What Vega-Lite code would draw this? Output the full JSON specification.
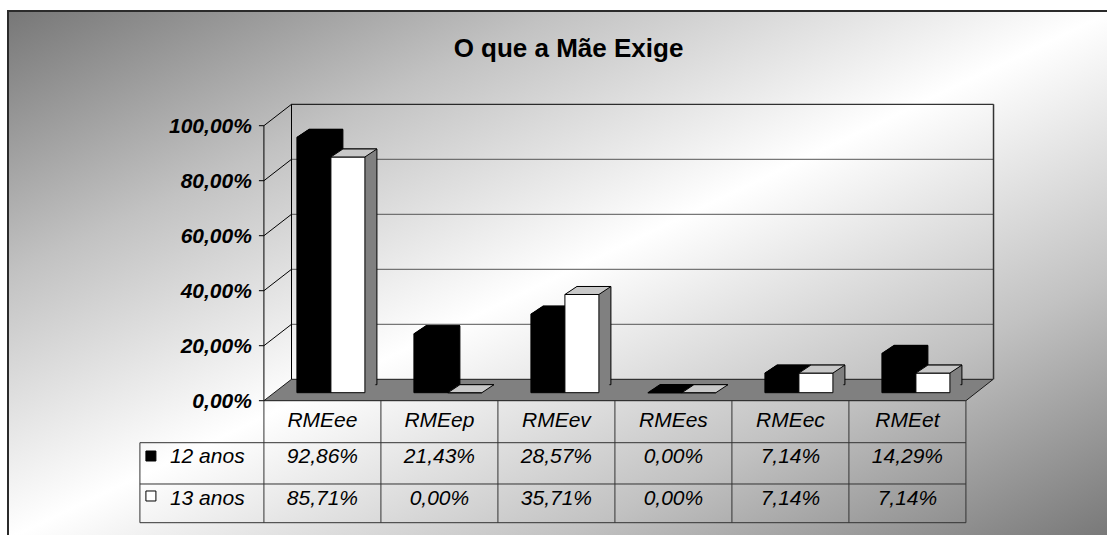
{
  "$schema": "https://vega.github.io/schema/vega-lite/v6.json",
  "width": 1105,
  "height": 528,
  "autosize": {"type": "none"},
  "padding": {"left": 8, "top": 11, "right": -6, "bottom": -4},
  "background": "#ffffff",
  "title": {"text": "O que a Mãe Exige", "anchor": "middle", "frame": "group", "orient": "top", "offset": -72, "baseline": "alphabetic", "dx": 8, "fontSize": 26, "fontWeight": "bold", "font": "Liberation Sans", "color": "#000000"},
  "config": {
    "locale": {"number": {"decimal": ",", "thousands": ".", "grouping": [3], "currency": ["", " €"]}},
    "view": {
      "fill": {"gradient": "linear", "x1": 0, "y1": 0, "x2": 1, "y2": 1, "stops": [
        {"offset": 0, "color": "#777777"},
        {"offset": 0.25, "color": "#c2c2c2"},
        {"offset": 0.5, "color": "#ffffff"},
        {"offset": 0.75, "color": "#c2c2c2"},
        {"offset": 1, "color": "#777777"}]},
      "stroke": "#2b2b2b",
      "strokeWidth": 2
    }
  },
  "datasets": {
    "d": [
      {"cat": "RMEee", "serie": "12 anos", "value": 0.9286},
      {"cat": "RMEep", "serie": "12 anos", "value": 0.2143},
      {"cat": "RMEev", "serie": "12 anos", "value": 0.2857},
      {"cat": "RMEes", "serie": "12 anos", "value": 0.0},
      {"cat": "RMEec", "serie": "12 anos", "value": 0.0714},
      {"cat": "RMEet", "serie": "12 anos", "value": 0.1429},
      {"cat": "RMEee", "serie": "13 anos", "value": 0.8571},
      {"cat": "RMEep", "serie": "13 anos", "value": 0.0},
      {"cat": "RMEev", "serie": "13 anos", "value": 0.3571},
      {"cat": "RMEes", "serie": "13 anos", "value": 0.0},
      {"cat": "RMEec", "serie": "13 anos", "value": 0.0714},
      {"cat": "RMEet", "serie": "13 anos", "value": 0.0714}
    ],
    "g": [{"v": 0}, {"v": 0.2}, {"v": 0.4}, {"v": 0.6}, {"v": 0.8}, {"v": 1}]
  },
  "data": {"name": "d"},
  "layer": [
    {
      "transform": [{"filter": "datum.cat=='RMEee' && datum.serie=='12 anos'"}],
      "mark": {"type": "point", "shape": "M0,0L702,0L729.3,-21.4L27.6,-21.4Z", "size": 4, "filled": true, "fill": "#808080", "stroke": "#1a1a1a", "strokeWidth": 1, "opacity": 1},
      "encoding": {
        "x": {"datum": "RMEee", "type": "nominal", "bandPosition": 0, "scale": {"type": "band", "domain": ["_", "RMEee", "RMEep", "RMEev", "RMEes", "RMEec", "RMEet", "~"], "paddingInner": 0, "paddingOuter": 0.7222, "align": 0.822}, "axis": null},
        "y": {"datum": 0, "type": "quantitative", "scale": {"domain": [-0.50291, 1.41709], "nice": false, "zero": false}, "axis": null}
      }
    },
    {
      "data": {"name": "g"},
      "transform": [{"filter": "datum.v > 0"}],
      "mark": {"type": "rule", "xOffset": 27.6, "x2Offset": 27.6, "yOffset": -21.4, "strokeWidth": 1},
      "encoding": {
        "x": {"datum": "RMEee", "type": "nominal", "bandPosition": 0, "axis": null},
        "x2": {"datum": "RMEet", "bandPosition": 1},
        "y": {"field": "v", "type": "quantitative", "axis": null},
        "color": {"condition": {"test": "datum.v == 1", "value": "#000000"}, "value": "#555555"}
      }
    },
    {
      "data": {"name": "g"},
      "transform": [{"filter": "datum.v > 0"}],
      "mark": {"type": "rule", "x2Offset": 27.6, "y2Offset": -21.4, "strokeWidth": 1, "color": "#000000"},
      "encoding": {
        "x": {"datum": "RMEee", "type": "nominal", "bandPosition": 0, "axis": null},
        "x2": {"datum": "RMEee", "bandPosition": 0},
        "y": {"field": "v", "type": "quantitative", "axis": null},
        "y2": {"field": "v"}
      }
    },
    {
      "data": {"name": "g"},
      "mark": {"type": "rule", "x2Offset": -5, "strokeWidth": 1, "color": "#000000"},
      "encoding": {
        "x": {"datum": "RMEee", "type": "nominal", "bandPosition": 0, "axis": null},
        "x2": {"datum": "RMEee", "bandPosition": 0},
        "y": {"field": "v", "type": "quantitative", "axis": null}
      }
    },
    {
      "data": {"name": "g"},
      "mark": {"type": "text", "align": "right", "baseline": "middle", "xOffset": -12, "yOffset": 1.5, "font": "Liberation Sans", "fontSize": 21, "fontWeight": "bold", "fontStyle": "italic", "color": "#000000"},
      "encoding": {
        "x": {"datum": "RMEee", "type": "nominal", "bandPosition": 0, "axis": null},
        "y": {"field": "v", "type": "quantitative", "axis": null},
        "text": {"field": "v", "type": "quantitative", "format": ".2%"}
      }
    },
    {
      "transform": [{"filter": "datum.cat=='RMEee' && datum.serie=='12 anos'"}],
      "mark": {"type": "rule", "xOffset": 27.6, "yOffset": -21.4, "y2Offset": -21.4, "strokeWidth": 1, "color": "#000000"},
      "encoding": {
        "x": {"datum": "RMEee", "type": "nominal", "bandPosition": 0, "axis": null},
        "y": {"datum": 0, "type": "quantitative", "axis": null},
        "y2": {"datum": 1}
      }
    },
    {
      "transform": [{"filter": "datum.cat=='RMEee' && datum.serie=='12 anos'"}],
      "mark": {"type": "rule", "xOffset": 27.6, "yOffset": -21.4, "y2Offset": -21.4, "strokeWidth": 1.5, "color": "#333333"},
      "encoding": {
        "x": {"datum": "RMEet", "type": "nominal", "bandPosition": 1, "axis": null},
        "y": {"datum": 0, "type": "quantitative", "axis": null},
        "y2": {"datum": 1}
      }
    },
    {
      "transform": [{"filter": "datum.cat=='RMEee' && datum.serie=='12 anos'"}],
      "mark": {"type": "rule", "strokeWidth": 1, "color": "#000000"},
      "encoding": {
        "x": {"datum": "RMEee", "type": "nominal", "bandPosition": 0, "axis": null},
        "y": {"datum": 0, "type": "quantitative", "axis": null},
        "y2": {"datum": 1}
      }
    },
    {
      "transform": [{"filter": "datum.serie=='12 anos'"}],
      "mark": {"type": "bar", "width": {"band": 0.2906}, "fill": "#000000", "stroke": "#000000", "strokeWidth": 1, "xOffset": 3.5, "yOffset": -16, "y2Offset": -16},
      "encoding": {"x": {"field": "cat", "type": "nominal", "axis": null}, "y": {"field": "value", "type": "quantitative", "axis": null}}
    },
    {
      "transform": [{"filter": "datum.serie=='12 anos'"}],
      "mark": {"type": "bar", "width": {"band": 0.2906}, "fill": "#000000", "stroke": "#000000", "strokeWidth": 1, "xOffset": 1.5, "yOffset": -14.667, "y2Offset": -14.667},
      "encoding": {"x": {"field": "cat", "type": "nominal", "axis": null}, "y": {"field": "value", "type": "quantitative", "axis": null}}
    },
    {
      "transform": [{"filter": "datum.serie=='12 anos'"}],
      "mark": {"type": "bar", "width": {"band": 0.2906}, "fill": "#000000", "stroke": "#000000", "strokeWidth": 1, "xOffset": -0.5, "yOffset": -13.333, "y2Offset": -13.333},
      "encoding": {"x": {"field": "cat", "type": "nominal", "axis": null}, "y": {"field": "value", "type": "quantitative", "axis": null}}
    },
    {
      "transform": [{"filter": "datum.serie=='12 anos'"}],
      "mark": {"type": "bar", "width": {"band": 0.2906}, "fill": "#000000", "stroke": "#000000", "strokeWidth": 1, "xOffset": -2.5, "yOffset": -12, "y2Offset": -12},
      "encoding": {"x": {"field": "cat", "type": "nominal", "axis": null}, "y": {"field": "value", "type": "quantitative", "axis": null}}
    },
    {
      "transform": [{"filter": "datum.serie=='12 anos'"}],
      "mark": {"type": "bar", "width": {"band": 0.2906}, "fill": "#000000", "stroke": "#000000", "strokeWidth": 1, "xOffset": -4.5, "yOffset": -10.667, "y2Offset": -10.667},
      "encoding": {"x": {"field": "cat", "type": "nominal", "axis": null}, "y": {"field": "value", "type": "quantitative", "axis": null}}
    },
    {
      "transform": [{"filter": "datum.serie=='12 anos'"}],
      "mark": {"type": "bar", "width": {"band": 0.2906}, "fill": "#000000", "stroke": "#000000", "strokeWidth": 1, "xOffset": -6.5, "yOffset": -9.333, "y2Offset": -9.333},
      "encoding": {"x": {"field": "cat", "type": "nominal", "axis": null}, "y": {"field": "value", "type": "quantitative", "axis": null}}
    },
    {
      "transform": [{"filter": "datum.serie=='12 anos'"}],
      "mark": {"type": "bar", "width": {"band": 0.2906}, "fill": "#000000", "stroke": "#000000", "strokeWidth": 1, "xOffset": -8.5, "yOffset": -8, "y2Offset": -8},
      "encoding": {"x": {"field": "cat", "type": "nominal", "axis": null}, "y": {"field": "value", "type": "quantitative", "axis": null}}
    },
    {
      "transform": [{"filter": "datum.serie=='12 anos'"}],
      "mark": {"type": "point", "shape": "M0,0L34,0L46,-8L12,-8Z", "size": 4, "filled": true, "fill": "#000000", "stroke": "#000000", "strokeWidth": 1, "opacity": 1, "xOffset": -25.5, "yOffset": -8},
      "encoding": {"x": {"field": "cat", "type": "nominal", "axis": null}, "y": {"field": "value", "type": "quantitative", "axis": null}}
    },
    {
      "transform": [{"filter": "datum.serie=='13 anos'"}],
      "mark": {"type": "bar", "width": {"band": 0.2906}, "fill": "#808080", "stroke": "#000000", "strokeWidth": 1, "xOffset": 37.5, "yOffset": -16, "y2Offset": -16},
      "encoding": {"x": {"field": "cat", "type": "nominal", "axis": null}, "y": {"field": "value", "type": "quantitative", "axis": null}}
    },
    {
      "transform": [{"filter": "datum.serie=='13 anos'"}],
      "mark": {"type": "bar", "width": {"band": 0.2906}, "fill": "#808080", "stroke": "#808080", "strokeWidth": 1, "xOffset": 35.5, "yOffset": -14.667, "y2Offset": -14.667},
      "encoding": {"x": {"field": "cat", "type": "nominal", "axis": null}, "y": {"field": "value", "type": "quantitative", "axis": null}}
    },
    {
      "transform": [{"filter": "datum.serie=='13 anos'"}],
      "mark": {"type": "bar", "width": {"band": 0.2906}, "fill": "#808080", "stroke": "#808080", "strokeWidth": 1, "xOffset": 33.5, "yOffset": -13.333, "y2Offset": -13.333},
      "encoding": {"x": {"field": "cat", "type": "nominal", "axis": null}, "y": {"field": "value", "type": "quantitative", "axis": null}}
    },
    {
      "transform": [{"filter": "datum.serie=='13 anos'"}],
      "mark": {"type": "bar", "width": {"band": 0.2906}, "fill": "#808080", "stroke": "#808080", "strokeWidth": 1, "xOffset": 31.5, "yOffset": -12, "y2Offset": -12},
      "encoding": {"x": {"field": "cat", "type": "nominal", "axis": null}, "y": {"field": "value", "type": "quantitative", "axis": null}}
    },
    {
      "transform": [{"filter": "datum.serie=='13 anos'"}],
      "mark": {"type": "bar", "width": {"band": 0.2906}, "fill": "#808080", "stroke": "#808080", "strokeWidth": 1, "xOffset": 29.5, "yOffset": -10.667, "y2Offset": -10.667},
      "encoding": {"x": {"field": "cat", "type": "nominal", "axis": null}, "y": {"field": "value", "type": "quantitative", "axis": null}}
    },
    {
      "transform": [{"filter": "datum.serie=='13 anos'"}],
      "mark": {"type": "bar", "width": {"band": 0.2906}, "fill": "#808080", "stroke": "#808080", "strokeWidth": 1, "xOffset": 27.5, "yOffset": -9.333, "y2Offset": -9.333},
      "encoding": {"x": {"field": "cat", "type": "nominal", "axis": null}, "y": {"field": "value", "type": "quantitative", "axis": null}}
    },
    {
      "transform": [{"filter": "datum.serie=='13 anos'"}],
      "mark": {"type": "bar", "width": {"band": 0.2906}, "fill": "#ffffff", "stroke": "#000000", "strokeWidth": 1, "xOffset": 25.5, "yOffset": -8, "y2Offset": -8},
      "encoding": {"x": {"field": "cat", "type": "nominal", "axis": null}, "y": {"field": "value", "type": "quantitative", "axis": null}}
    },
    {
      "transform": [{"filter": "datum.serie=='13 anos'"}],
      "mark": {"type": "point", "shape": "M0,0L34,0L46,-8L12,-8Z", "size": 4, "filled": true, "fill": "#c8c8c8", "stroke": "#000000", "strokeWidth": 1, "opacity": 1, "xOffset": 8.5, "yOffset": -8},
      "encoding": {"x": {"field": "cat", "type": "nominal", "axis": null}, "y": {"field": "value", "type": "quantitative", "axis": null}}
    },
    {
      "transform": [{"filter": "datum.cat=='RMEee' && datum.serie=='12 anos'"}],
      "mark": {"type": "rule", "xOffset": -7, "strokeWidth": 1, "color": "#333333"},
      "encoding": {
        "x": {"datum": "_", "type": "nominal", "bandPosition": 0, "axis": null},
        "x2": {"datum": "RMEet", "bandPosition": 1},
        "y": {"datum": -0.1527, "type": "quantitative", "axis": null}
      }
    },
    {
      "transform": [{"filter": "datum.cat=='RMEee' && datum.serie=='12 anos'"}],
      "mark": {"type": "rule", "xOffset": -7, "strokeWidth": 1, "color": "#333333"},
      "encoding": {
        "x": {"datum": "_", "type": "nominal", "bandPosition": 0, "axis": null},
        "x2": {"datum": "RMEet", "bandPosition": 1},
        "y": {"datum": -0.3029, "type": "quantitative", "axis": null}
      }
    },
    {
      "transform": [{"filter": "datum.cat=='RMEee' && datum.serie=='12 anos'"}],
      "mark": {"type": "rule", "xOffset": -7, "strokeWidth": 1, "color": "#333333"},
      "encoding": {
        "x": {"datum": "_", "type": "nominal", "bandPosition": 0, "axis": null},
        "x2": {"datum": "RMEet", "bandPosition": 1},
        "y": {"datum": -0.4436, "type": "quantitative", "axis": null}
      }
    },
    {
      "transform": [{"filter": "datum.serie=='12 anos'"}],
      "mark": {"type": "rule", "strokeWidth": 1, "color": "#333333"},
      "encoding": {
        "x": {"field": "cat", "type": "nominal", "bandPosition": 0, "axis": null},
        "y": {"datum": 0, "type": "quantitative", "axis": null},
        "y2": {"datum": -0.4436}
      }
    },
    {
      "transform": [{"filter": "datum.cat=='RMEee' && datum.serie=='12 anos'"}],
      "mark": {"type": "rule", "strokeWidth": 1, "color": "#333333"},
      "encoding": {
        "x": {"datum": "RMEet", "type": "nominal", "bandPosition": 1, "axis": null},
        "y": {"datum": 0, "type": "quantitative", "axis": null},
        "y2": {"datum": -0.4436}
      }
    },
    {
      "transform": [{"filter": "datum.cat=='RMEee' && datum.serie=='12 anos'"}],
      "mark": {"type": "rule", "xOffset": -7, "strokeWidth": 1, "color": "#333333"},
      "encoding": {
        "x": {"datum": "_", "type": "nominal", "bandPosition": 0, "axis": null},
        "y": {"datum": -0.1527, "type": "quantitative", "axis": null},
        "y2": {"datum": -0.4436}
      }
    },
    {
      "transform": [{"filter": "datum.serie=='12 anos'"}],
      "mark": {"type": "text", "align": "center", "baseline": "alphabetic", "font": "Liberation Sans", "fontStyle": "italic", "fontSize": 21, "color": "#000000"},
      "encoding": {
        "x": {"field": "cat", "type": "nominal", "axis": null},
        "y": {"datum": -0.0945, "type": "quantitative", "axis": null},
        "text": {"field": "cat"}
      }
    },
    {
      "transform": [{"filter": "datum.serie=='12 anos'"}],
      "mark": {"type": "text", "align": "center", "baseline": "alphabetic", "font": "Liberation Sans", "fontStyle": "italic", "fontSize": 21, "color": "#000000"},
      "encoding": {
        "x": {"field": "cat", "type": "nominal", "axis": null},
        "y": {"datum": -0.228, "type": "quantitative", "axis": null},
        "text": {"field": "value", "type": "quantitative", "format": ".2%"}
      }
    },
    {
      "transform": [{"filter": "datum.serie=='13 anos'"}],
      "mark": {"type": "text", "align": "center", "baseline": "alphabetic", "font": "Liberation Sans", "fontStyle": "italic", "fontSize": 21, "color": "#000000"},
      "encoding": {
        "x": {"field": "cat", "type": "nominal", "axis": null},
        "y": {"datum": -0.3793, "type": "quantitative", "axis": null},
        "text": {"field": "value", "type": "quantitative", "format": ".2%"}
      }
    },
    {
      "transform": [{"filter": "datum.cat=='RMEee' && datum.serie=='12 anos'"}],
      "mark": {"type": "text", "align": "left", "baseline": "alphabetic", "font": "Liberation Sans", "fontStyle": "italic", "fontSize": 21, "color": "#000000", "xOffset": 23},
      "encoding": {
        "x": {"datum": "_", "type": "nominal", "bandPosition": 0, "axis": null},
        "y": {"datum": -0.228, "type": "quantitative", "axis": null},
        "text": {"field": "serie"}
      }
    },
    {
      "transform": [{"filter": "datum.cat=='RMEee' && datum.serie=='13 anos'"}],
      "mark": {"type": "text", "align": "left", "baseline": "alphabetic", "font": "Liberation Sans", "fontStyle": "italic", "fontSize": 21, "color": "#000000", "xOffset": 23},
      "encoding": {
        "x": {"datum": "_", "type": "nominal", "bandPosition": 0, "axis": null},
        "y": {"datum": -0.3793, "type": "quantitative", "axis": null},
        "text": {"field": "serie"}
      }
    },
    {
      "transform": [{"filter": "datum.cat=='RMEee' && datum.serie=='12 anos'"}],
      "mark": {"type": "point", "shape": "square", "size": 100, "filled": true, "fill": "#000000", "stroke": "#000000", "strokeWidth": 1, "opacity": 1, "xOffset": 4},
      "encoding": {
        "x": {"datum": "_", "type": "nominal", "bandPosition": 0, "axis": null},
        "y": {"datum": -0.2011, "type": "quantitative", "axis": null}
      }
    },
    {
      "transform": [{"filter": "datum.cat=='RMEee' && datum.serie=='13 anos'"}],
      "mark": {"type": "point", "shape": "square", "size": 100, "filled": true, "fill": "#ffffff", "stroke": "#000000", "strokeWidth": 1, "opacity": 1, "xOffset": 4},
      "encoding": {
        "x": {"datum": "_", "type": "nominal", "bandPosition": 0, "axis": null},
        "y": {"datum": -0.3465, "type": "quantitative", "axis": null}
      }
    }
  ]
}
